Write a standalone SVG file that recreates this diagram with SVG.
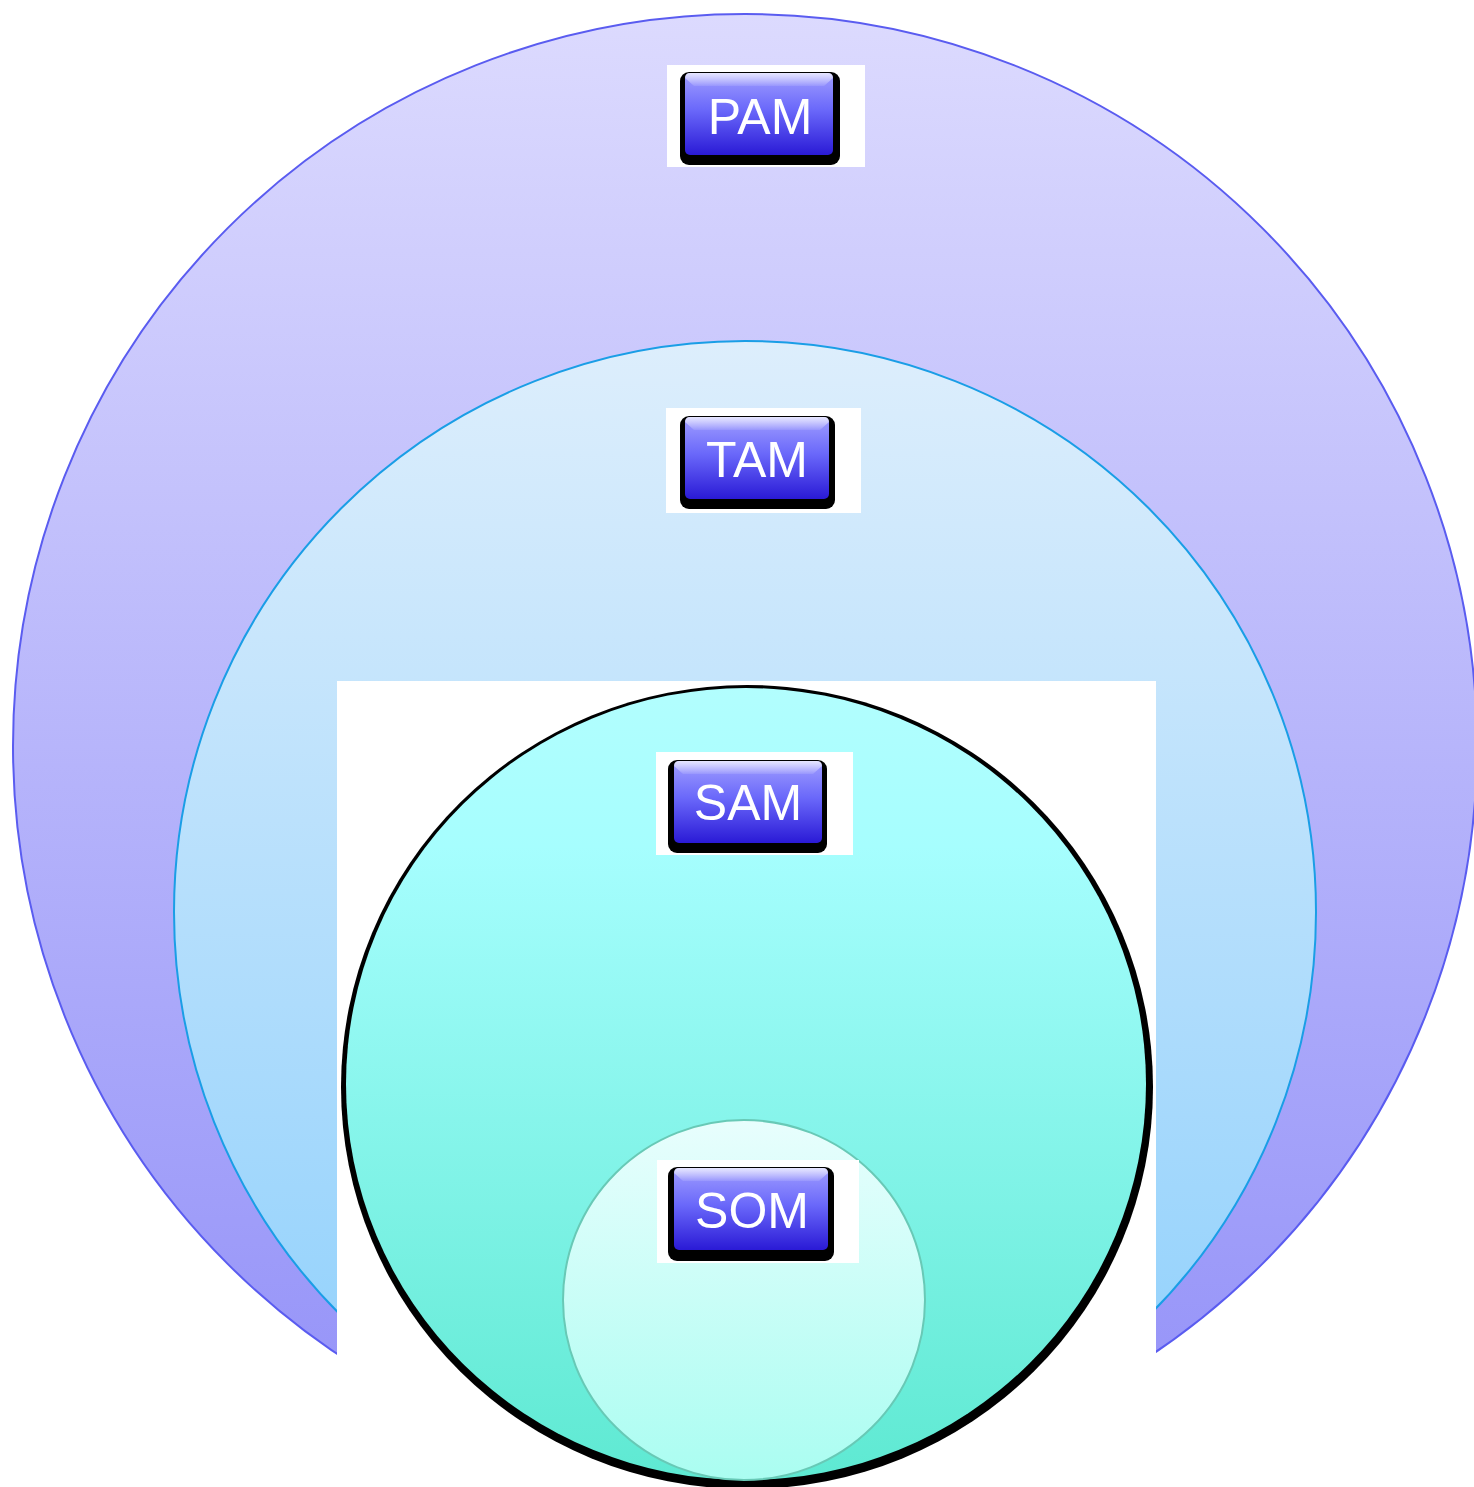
<svg xmlns="http://www.w3.org/2000/svg" width="1474" height="1487" viewBox="0 0 1474 1487">
<defs>
<linearGradient id="gPam" x1="0" y1="0" x2="0" y2="1"><stop offset="0" stop-color="#dcdafe"/><stop offset="1" stop-color="#9290f8"/></linearGradient>
<linearGradient id="gTam" x1="0" y1="0" x2="0" y2="1"><stop offset="0" stop-color="#ddeefc"/><stop offset="1" stop-color="#8ccffc"/></linearGradient>
<linearGradient id="gSam" x1="0" y1="0" x2="0" y2="1"><stop offset="0" stop-color="#b2fefe"/><stop offset="0.2" stop-color="#a6fefe"/><stop offset="1" stop-color="#5ee9d2"/></linearGradient>
<linearGradient id="gSom" x1="0" y1="0" x2="0" y2="1"><stop offset="0" stop-color="#e8fefd"/><stop offset="1" stop-color="#aafdf1"/></linearGradient>
<linearGradient id="gBtn" x1="0" y1="0" x2="0" y2="1"><stop offset="0" stop-color="#a09eff"/><stop offset="0.45" stop-color="#6a68fa"/><stop offset="1" stop-color="#2a1ad6"/></linearGradient>
<linearGradient id="gBev" x1="0" y1="0" x2="0" y2="1"><stop offset="0" stop-color="#ffffff" stop-opacity="0.75"/><stop offset="1" stop-color="#ffffff" stop-opacity="0.1"/></linearGradient>
<style>
.lab{fill:#ffffff}
.sh{fill:#000000}
.face{fill:url(#gBtn)}
.bev{fill:url(#gBev)}
.txt{font-family:"Liberation Sans",Arial,sans-serif;font-size:50px;fill:#ffffff;text-anchor:middle}
</style>
</defs>
<rect width="1474" height="1487" fill="#ffffff"/>
<g id="pam-circle"><circle cx="745" cy="746" r="732" fill="url(#gPam)" stroke="#5a5cf0" stroke-width="2"/></g>
<g id="tam-circle"><circle cx="745" cy="912" r="571" fill="url(#gTam)" stroke="#1a9ee6" stroke-width="2"/></g>
<rect x="337" y="681" width="819" height="806" fill="#ffffff"/>
<g id="sam-circle">
<ellipse cx="747" cy="1087" rx="406" ry="402" fill="#000000"/>
<ellipse cx="746" cy="1084" rx="400" ry="396" fill="url(#gSam)"/>
</g>
<g id="som-circle"><ellipse cx="744" cy="1300" rx="181" ry="180" fill="url(#gSom)" stroke="#68c9b6" stroke-width="2"/></g>
<g id="pam">
<rect class="lab" x="667" y="65" width="198" height="102"/>
<rect class="sh" x="680" y="72" width="160" height="93" rx="9"/>
<rect class="face" x="685" y="73" width="148" height="82" rx="5"/>
<path class="bev" d="M685 78 Q685 73 690 73 L828 73 Q833 73 833 78 L824 86 L694 86 Z"/>
<text class="txt" x="760" y="134">PAM</text>
</g>
<g id="tam">
<rect class="lab" x="666" y="408" width="195" height="105"/>
<rect class="sh" x="680" y="416" width="155" height="93" rx="9"/>
<rect class="face" x="685" y="417" width="144" height="82" rx="5"/>
<path class="bev" d="M685 422 Q685 417 690 417 L824 417 Q829 417 829 422 L820 430 L694 430 Z"/>
<text class="txt" x="757" y="477">TAM</text>
</g>
<g id="sam">
<rect class="lab" x="656" y="752" width="197" height="103"/>
<rect class="sh" x="668" y="760" width="159" height="93" rx="9"/>
<rect class="face" x="674" y="761" width="148" height="82" rx="5"/>
<path class="bev" d="M674 766 Q674 761 679 761 L817 761 Q822 761 822 766 L813 774 L683 774 Z"/>
<text class="txt" x="748" y="820">SAM</text>
</g>
<g id="som">
<rect class="lab" x="657" y="1160" width="202" height="103"/>
<rect class="sh" x="668" y="1167" width="166" height="94" rx="9"/>
<rect class="face" x="674" y="1168" width="154" height="82" rx="5"/>
<path class="bev" d="M674 1173 Q674 1168 679 1168 L823 1168 Q828 1168 828 1173 L819 1181 L683 1181 Z"/>
<text class="txt" x="752" y="1228">SOM</text>
</g>
<g id="connectors"/>
</svg>
